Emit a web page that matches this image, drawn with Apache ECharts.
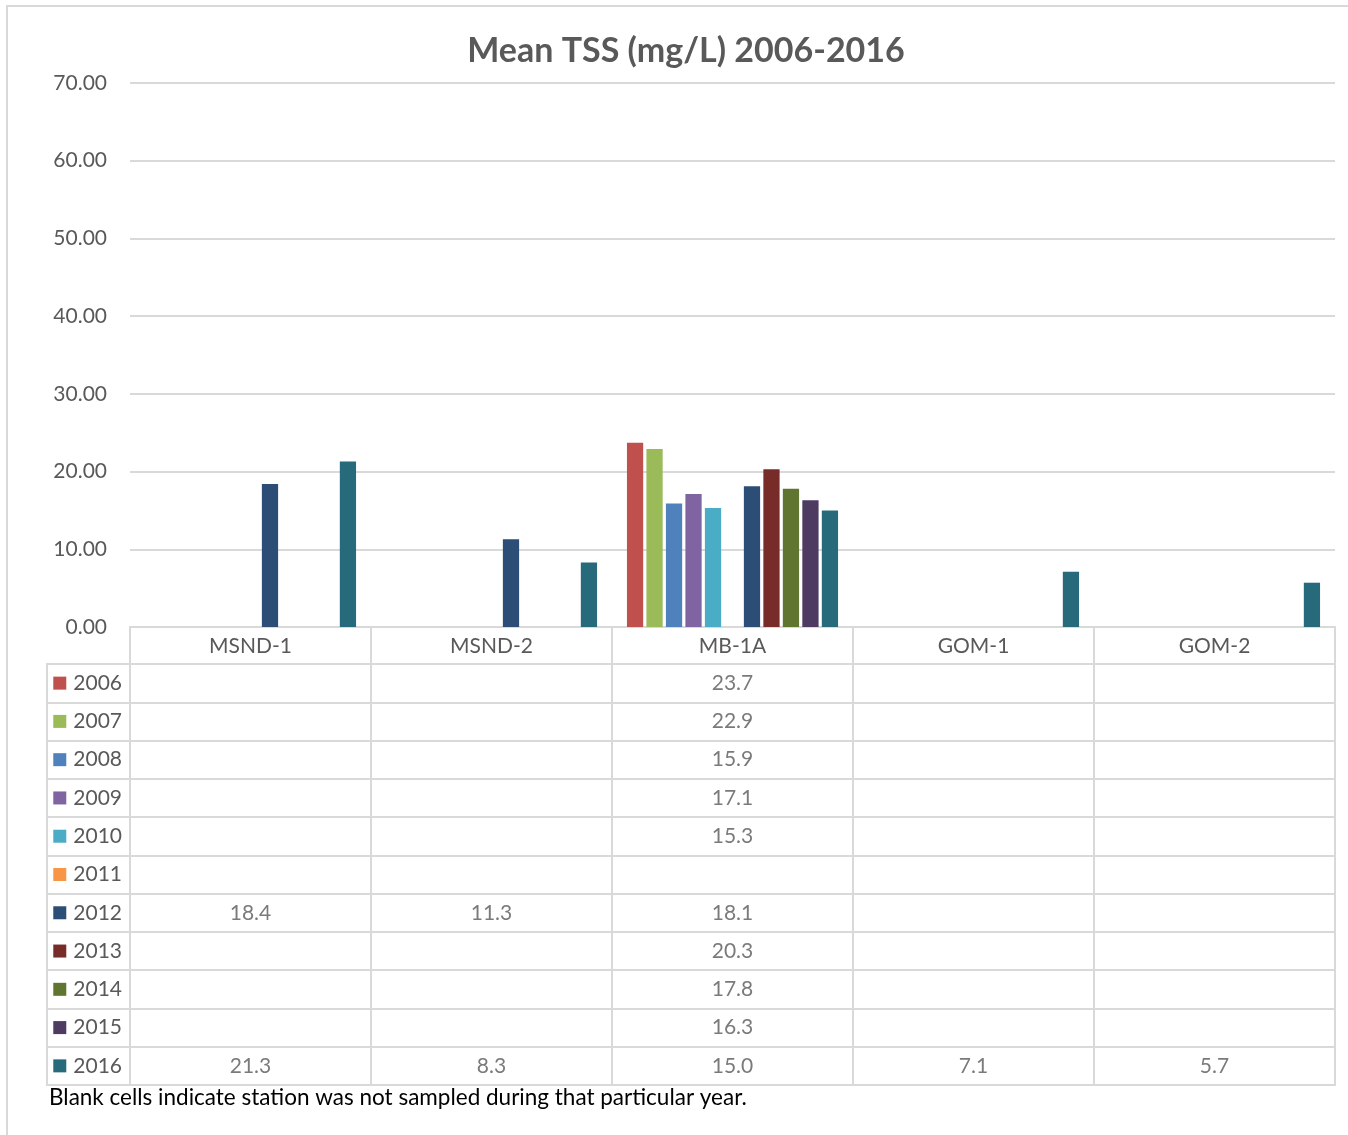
<!DOCTYPE html>
<html>
<head>
<meta charset="utf-8">
<script src="https://cdn.jsdelivr.net/npm/echarts@6/dist/echarts.min.js"></script>
<style>
html,body{margin:0;padding:0;background:#fff;}
#chart{width:1348px;height:1135px;}
</style>
</head>
<body>
<div id="chart"></div>
<script>
// ---- data ----
const titleText = 'Mean TSS (mg/L) 2006-2016';
const noteText = 'Blank cells indicate station was not sampled during that particular year.';
const stations = ['MSND-1', 'MSND-2', 'MB-1A', 'GOM-1', 'GOM-2'];
const years = ['2006', '2007', '2008', '2009', '2010', '2011', '2012', '2013', '2014', '2015', '2016'];
const v2006 = [null, null, 23.7, null, null];
const v2007 = [null, null, 22.9, null, null];
const v2008 = [null, null, 15.9, null, null];
const v2009 = [null, null, 17.1, null, null];
const v2010 = [null, null, 15.3, null, null];
const v2011 = [null, null, null, null, null];
const v2012 = [18.4, 11.3, 18.1, null, null];
const v2013 = [null, null, 20.3, null, null];
const v2014 = [null, null, 17.8, null, null];
const v2015 = [null, null, 16.3, null, null];
const v2016 = [21.3, 8.3, 15.0, 7.1, 5.7];
const yMin = 0, yMax = 70, yInterval = 10;

const values = [v2006, v2007, v2008, v2009, v2010, v2011, v2012, v2013, v2014, v2015, v2016];
const colors = ['#C0504D', '#9BBB59', '#4F81BD', '#8064A2', '#4BACC6', '#F79646',
                '#2C4D75', '#772C2A', '#5F7530', '#4D3B62', '#276A7C'];

const FONT = 'Lato';
const TXT = '#595959';
const LINE = '#d9d9d9';

const chart = echarts.init(document.getElementById('chart'));

const rich = {t: {fontFamily: FONT, fontSize: 21, color: TXT, padding: [0, 0, 0, 7]}};
colors.forEach((c, i) => { rich['c' + i] = {backgroundColor: c, width: 13, height: 13}; });

const series = [];
years.forEach((y, i) => {
  series.push({
    name: y, type: 'bar', xAxisIndex: 0, yAxisIndex: 0,
    data: values[i],
    barGap: '20%', barCategoryGap: '12.4%',
    itemStyle: {color: colors[i]},
    emphasis: {disabled: true}
  });
});
years.forEach((y, i) => {
  series.push({
    name: y + ' table', type: 'scatter', xAxisIndex: 1, yAxisIndex: 1,
    symbolSize: 1, itemStyle: {color: 'rgba(0,0,0,0)'},
    data: values[i].map((v, s) => v == null ? null : [s, i, v]),
    label: {
      show: true, position: 'inside', fontFamily: FONT, fontSize: 21, color: TXT,
      formatter: p => p.value[2].toFixed(1)
    },
    emphasis: {disabled: true}, silent: true
  });
});

chart.setOption({
  animation: false,
  backgroundColor: '#fff',
  title: {
    text: titleText, left: 681, top: 29, textAlign: 'center',
    textStyle: {fontFamily: FONT, fontSize: 34, fontWeight: 'bold', color: TXT}
  },
  grid: [
    {left: 130, right: 13, top: 83, height: 544},
    {left: 130, right: 13, top: 664, height: 421, show: true, borderColor: LINE, borderWidth: 2},
    {left: 47, width: 83, top: 664, height: 421, show: true, borderColor: LINE, borderWidth: 2}
  ],
  xAxis: [
    {
      gridIndex: 0, type: 'category', data: stations,
      axisLine: {lineStyle: {color: LINE, width: 2}},
      axisTick: {show: true, length: 37, lineStyle: {color: LINE, width: 2}},
      axisLabel: {fontFamily: FONT, fontSize: 21, color: TXT, margin: 9}
    },
    {
      gridIndex: 1, type: 'category', data: stations,
      axisLine: {show: false}, axisTick: {show: false}, axisLabel: {show: false},
      splitLine: {show: true, interval: 0, lineStyle: {color: LINE, width: 2}}
    },
    {gridIndex: 2, type: 'value', show: false}
  ],
  yAxis: [
    {
      gridIndex: 0, type: 'value', min: yMin, max: yMax, interval: yInterval,
      axisLine: {show: false}, axisTick: {show: false},
      axisLabel: {fontFamily: FONT, fontSize: 21, color: TXT, margin: 23,
                  formatter: v => v.toFixed(2)},
      splitLine: {lineStyle: {color: LINE, width: 2}}
    },
    {
      gridIndex: 1, type: 'category', data: years, inverse: true,
      axisLine: {show: false}, axisTick: {show: false},
      axisLabel: {margin: 8, rich: rich,
                  formatter: (v, i) => '{c' + i + '|}{t|' + v + '}'},
      splitLine: {show: true, interval: 0, lineStyle: {color: LINE, width: 2}}
    },
    {
      gridIndex: 2, type: 'category', data: years, inverse: true,
      axisLine: {show: false}, axisTick: {show: false}, axisLabel: {show: false},
      splitLine: {show: true, interval: 0, lineStyle: {color: LINE, width: 2}}
    }
  ],
  graphic: [
    {type: 'rect', silent: true, shape: {x: 7, y: 6, width: 1400, height: 1200},
     style: {fill: 'none', stroke: LINE, lineWidth: 2}},
    {type: 'text', left: 49, top: 1086, silent: true,
     style: {text: noteText, fontFamily: FONT, fontSize: 22.5, fill: '#000'}}
  ],
  series: series
});
</script>
</body>
</html>
